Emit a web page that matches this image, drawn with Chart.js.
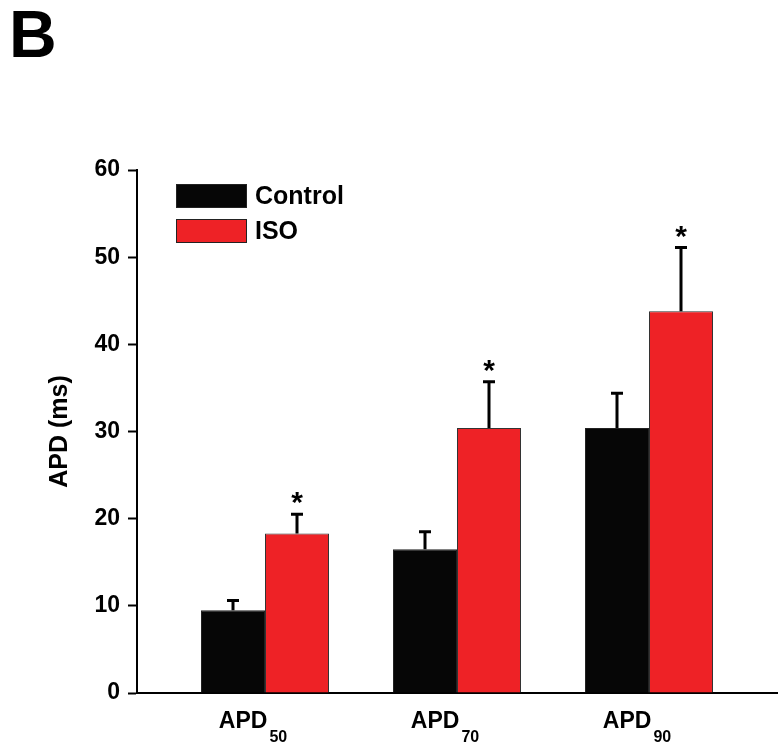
<!DOCTYPE html>
<html>
<head>
<meta charset="utf-8">
<script src="https://cdn.jsdelivr.net/npm/chart.js@4/dist/chart.umd.min.js"></script>
<style>
  html, body { margin: 0; padding: 0; background: #ffffff; }
  canvas { display: block; }
</style>
</head>
<body>
<canvas id="apd" width="780" height="750"></canvas>
<script>
// Action potential duration at 50/70/90 % repolarisation
const labelMain = 'APD';
const labelSubs = ['50', '70', '90'];
const groupPos = [1, 2, 3];

const controlMean = [9.5, 16.5, 30.4];
const controlSem  = [1.1, 2.0, 4.0];
const isoMean     = [18.3, 30.4, 43.8];
const isoSem      = [2.2, 5.3, 7.3];
const isoSig      = ['*', '*', '*'];

const yTicks = [0, 10, 20, 30, 40, 50, 60];
const panelLetter = 'B';
const yTitle = 'APD (ms)';

const FONT = "'Liberation Sans', Arial, Helvetica, sans-serif";
const CONTROL_FILL = '#060606';
const ISO_FILL = '#ee2226';

const semByDataset = [controlSem, isoSem];
const sigByDataset = [null, isoSig];

const annotate = {
  id: 'annotate',
  afterDatasetsDraw(chart) {
    const ctx = chart.ctx;
    const y = chart.scales.y;
    const x = chart.scales.x;
    ctx.save();

    // upward SEM whiskers and significance marks
    chart.data.datasets.forEach((ds, di) => {
      const meta = chart.getDatasetMeta(di);
      meta.data.forEach((bar, i) => {
        const v = ds.data[i].y;
        const top = y.getPixelForValue(v + semByDataset[di][i]);
        const base = y.getPixelForValue(v);
        ctx.strokeStyle = '#000';
        ctx.lineWidth = 3;
        ctx.beginPath();
        ctx.moveTo(bar.x, base);
        ctx.lineTo(bar.x, top);
        ctx.moveTo(bar.x - 6, top);
        ctx.lineTo(bar.x + 6, top);
        ctx.stroke();
        const sig = sigByDataset[di];
        if (sig && sig[i]) {
          ctx.fillStyle = '#000';
          ctx.font = 'bold 30px ' + FONT;
          ctx.textAlign = 'center';
          ctx.textBaseline = 'alphabetic';
          ctx.fillText(sig[i], bar.x, top - 19 + 17);
        }
      });
    });

    // category labels with subscripts
    ctx.fillStyle = '#000';
    ctx.textBaseline = 'alphabetic';
    groupPos.forEach((p, i) => {
      const cx = x.getPixelForValue(p) - 12;
      ctx.font = 'bold 23px ' + FONT;
      const wMain = ctx.measureText(labelMain).width;
      ctx.font = 'bold 16px ' + FONT;
      const wSub = ctx.measureText(labelSubs[i]).width;
      const left = cx - (wMain + 2 + wSub) / 2;
      ctx.textAlign = 'left';
      ctx.font = 'bold 23px ' + FONT;
      ctx.fillText(labelMain, left, 728);
      ctx.font = 'bold 16px ' + FONT;
      ctx.fillText(labelSubs[i], left + wMain + 2, 742);
    });

    // legend
    const items = chart.data.datasets;
    items.forEach((ds, i) => {
      const top = 184 + i * 35;
      ctx.fillStyle = ds.backgroundColor;
      ctx.fillRect(176, top, 71, 24);
      ctx.strokeStyle = '#222';
      ctx.lineWidth = 1;
      ctx.strokeRect(176.5, top + 0.5, 70, 23);
      ctx.fillStyle = '#000';
      ctx.font = 'bold 25px ' + FONT;
      ctx.textAlign = 'left';
      ctx.textBaseline = 'middle';
      ctx.fillText(ds.label, 255, top + 13);
    });

    // panel letter
    ctx.font = 'bold 66px ' + FONT;
    ctx.textAlign = 'left';
    ctx.textBaseline = 'alphabetic';
    ctx.fillText(panelLetter, 9, 57);

    ctx.restore();
  }
};

new Chart(document.getElementById('apd'), {
  type: 'bar',
  data: {
    datasets: [
      {
        label: 'Control',
        data: groupPos.map((p, i) => ({ x: p, y: controlMean[i] })),
        backgroundColor: CONTROL_FILL,
        borderColor: '#222',
        borderWidth: 1
      },
      {
        label: 'ISO',
        data: groupPos.map((p, i) => ({ x: p, y: isoMean[i] })),
        backgroundColor: ISO_FILL,
        borderColor: '#333',
        borderWidth: 1
      }
    ]
  },
  options: {
    responsive: false,
    animation: false,
    devicePixelRatio: 1,
    categoryPercentage: 2 / 3,
    barPercentage: 1,
    layout: { padding: { top: 170, right: 3, left: 0, bottom: 0 } },
    plugins: {
      legend: { display: false },
      tooltip: { enabled: false }
    },
    scales: {
      x: {
        type: 'linear',
        offset: false,
        min: 1 / 3,
        max: 11 / 3,
        afterBuildTicks(s) { s.ticks = groupPos.map(v => ({ value: v })); },
        grid: { display: false },
        ticks: { display: false },
        border: { display: true, color: '#000', width: 2 },
        afterFit(s) { s.height = 57; }
      },
      y: {
        min: 0,
        max: 60,
        afterBuildTicks(s) { s.ticks = yTicks.map(v => ({ value: v })); },
        grid: {
          drawOnChartArea: false,
          drawTicks: true,
          tickLength: 9,
          tickWidth: 2,
          tickColor: '#000'
        },
        border: { display: true, color: '#000', width: 2 },
        ticks: {
          color: '#000',
          padding: 8,
          font: { family: FONT, size: 23, weight: 'bold' }
        },
        title: {
          display: true,
          text: yTitle,
          color: '#000',
          font: { family: FONT, size: 25, weight: 'bold' },
          padding: { top: 45, bottom: 0 }
        },
        afterFit(s) { s.width = 137; }
      }
    }
  },
  plugins: [annotate]
});
</script>
</body>
</html>
